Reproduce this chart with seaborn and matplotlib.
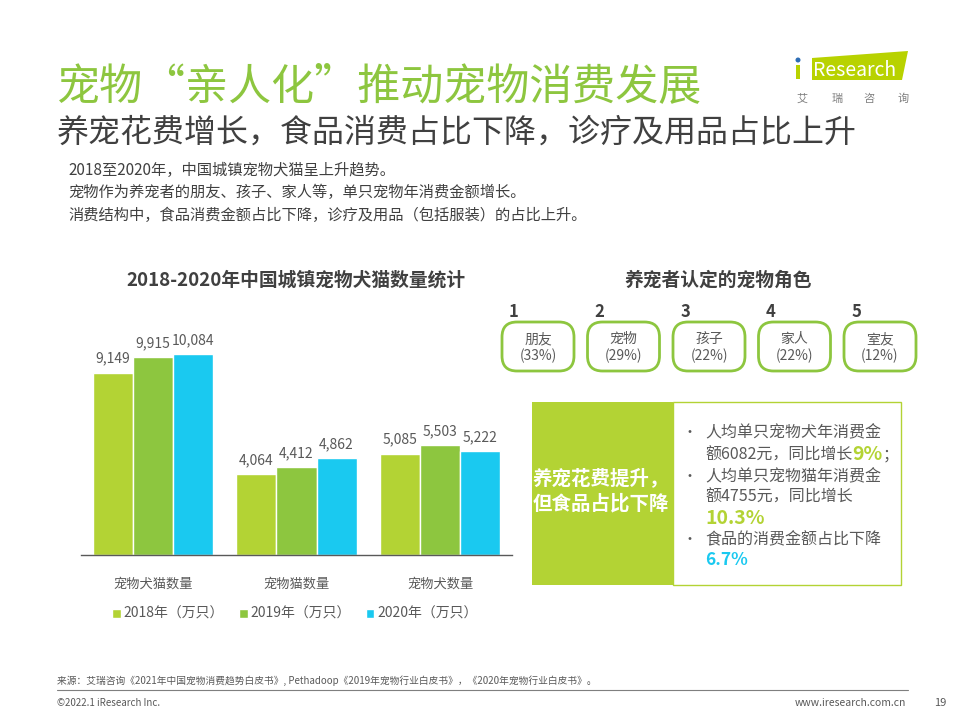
import matplotlib
matplotlib.use('Agg')
import matplotlib.pyplot as plt
from matplotlib.patches import FancyBboxPatch, Rectangle, Polygon, Circle
import pandas as pd
import seaborn as sns

sns.set_style('white')
plt.rcParams['font.family'] = ['Noto Sans CJK SC', 'DejaVu Sans']

# data
categories = ['宠物犬猫数量', '宠物猫数量', '宠物犬数量']
years = ['2018年（万只）', '2019年（万只）', '2020年（万只）']
v2018 = [9149, 4064, 5085]
v2019 = [9915, 4412, 5503]
v2020 = [10084, 4862, 5222]
roles = ['朋友', '宠物', '孩子', '家人', '室友']
role_pct = [33, 29, 22, 22, 12]

LIME = '#B3D334'
GREEN = '#8DC63F'
CYAN = '#1AC9F0'
DARK = '#404040'
GRAY = '#595959'

df = pd.DataFrame({
    'category': categories * 3,
    'year': [years[0]] * 3 + [years[1]] * 3 + [years[2]] * 3,
    'value': v2018 + v2019 + v2020,
})

fig = plt.figure(figsize=(9.6, 7.2), dpi=100)

# overlay in pixel coordinates for the slide decorations
ov = fig.add_axes([0, 0, 1, 1])
ov.set_xlim(0, 960)
ov.set_ylim(720, 0)
ov.axis('off')

# bar chart
ax = fig.add_axes([81 / 960, 1 - 555 / 720, 431 / 960, 255 / 720])
ax.set_facecolor('none')
sns.barplot(data=df, x='category', y='value', hue='year', hue_order=years,
            palette=[LIME, GREEN, CYAN], width=0.836, gap=0, ax=ax,
            saturation=1, legend=True)
for cont in ax.containers:
    ax.bar_label(cont, fmt='{:,.0f}', padding=5, fontsize=10, color=GRAY)
ax.set_ylim(0, 12795)
ax.set_xlim(-0.5, 2.5)
ax.set_xlabel('')
ax.set_ylabel('')
ax.set_yticks([])
for s in ['left', 'right', 'top']:
    ax.spines[s].set_visible(False)
ax.spines['bottom'].set_color(GRAY)
ax.spines['bottom'].set_linewidth(1)
ax.tick_params(axis='x', length=0, pad=16, labelsize=9.5, labelcolor=GRAY)

handles, labels = ax.get_legend_handles_labels()
ax.get_legend().remove()
fig.legend(handles, labels, loc='center', bbox_to_anchor=(295 / 960, 1 - 614 / 720),
           ncol=3, frameon=False, fontsize=10, handlelength=0.6, handleheight=0.6,
           handletextpad=0.2, columnspacing=1.1, labelcolor=GRAY)

# titles and body text
ov.text(57, 87, '宠物“亲人化”推动宠物消费发展', fontsize=31, color=GREEN, va='center', ha='left')
ov.text(57, 133, '养宠花费增长，食品消费占比下降，诊疗及用品占比上升', fontsize=23, color=DARK,
        va='center', ha='left')
body = ['2018至2020年，中国城镇宠物犬猫呈上升趋势。',
        '宠物作为养宠者的朋友、孩子、家人等，单只宠物年消费金额增长。',
        '消费结构中，食品消费金额占比下降，诊疗及用品（包括服装）的占比上升。']
for i, line in enumerate(body):
    ov.text(68, 170 + i * 22.5, line, fontsize=11, color=DARK, va='center', ha='left')

ov.text(296, 280, '2018-2020年中国城镇宠物犬猫数量统计', fontsize=13.5, fontweight='bold',
        color=DARK, va='center', ha='center')
ov.text(718, 280, '养宠者认定的宠物角色', fontsize=13.5, fontweight='bold',
        color=DARK, va='center', ha='center')

# role boxes
for i, (role, pct) in enumerate(zip(roles, role_pct)):
    x0 = 502 + i * 85.5
    box = FancyBboxPatch((x0, 322), 72, 49, boxstyle='round,pad=0,rounding_size=15',
                         facecolor='white', edgecolor=GREEN, linewidth=2)
    ov.add_patch(box)
    ov.text(x0 + 12, 312, str(i + 1), fontsize=12, fontweight='bold', color=DARK,
            va='center', ha='center')
    ov.text(x0 + 36, 339, role, fontsize=10, color=GRAY, va='center', ha='center')
    ov.text(x0 + 36, 356, f'({pct}%)', fontsize=10, color=GRAY, va='center', ha='center')

# info box
ov.add_patch(Rectangle((532, 402), 141, 183, facecolor=LIME, edgecolor='none'))
ov.add_patch(Rectangle((673, 402), 228, 183, facecolor='white', edgecolor=LIME, linewidth=1))
ov.text(601, 478, '养宠花费提升，', fontsize=14, fontweight='bold', color='white',
        va='center', ha='center')
ov.text(601, 504, '但食品占比下降', fontsize=14, fontweight='bold', color='white',
        va='center', ha='center')

renderer = fig.canvas.get_renderer()


def draw_runs(x, y, runs):
    for s, kw in runs:
        t = ov.text(x, y, s, va='center', ha='left', **kw)
        x += t.get_window_extent(renderer=renderer).width


txt = dict(fontsize=11.5, color=GRAY)
hl_lime = dict(fontsize=14, color=LIME, fontweight='bold')
hl_cyan = dict(fontsize=12.5, color=CYAN, fontweight='bold')
lines = [
    (433, True, [('人均单只宠物犬年消费金', txt)]),
    (455, False, [('额6082元，同比增长', txt), ('9%', hl_lime), ('；', txt)]),
    (477, True, [('人均单只宠物猫年消费金', txt)]),
    (497, False, [('额4755元，同比增长', txt)]),
    (518, False, [('10.3%', hl_lime)]),
    (540, True, [('食品的消费金额占比下降', txt)]),
    (560, False, [('6.7%', hl_cyan)]),
]
for y, bullet, runs in lines:
    if bullet:
        ov.text(690, y, '•', fontsize=10, color=GRAY, va='center', ha='center')
    draw_runs(705, y, runs)

# logo
ov.add_patch(Polygon([(812, 58), (908, 51), (902, 80), (812, 80)], closed=True,
                     facecolor='#B8D200', edgecolor='none'))
ov.add_patch(Rectangle((796, 65), 4, 14, facecolor='#B8D200', edgecolor='none'))
ov.add_patch(Circle((798, 60), 2.5, facecolor='#2D6DB5', edgecolor='none'))
ov.text(813, 71, 'Research', fontsize=14, color='white', va='center', ha='left')
for ch, cx in zip('艾瑞咨询', [802, 837, 869, 903]):
    ov.text(cx, 99, ch, fontsize=8, color='#7F7F7F', va='center', ha='center')

# footer
ov.text(57, 681, '来源：艾瑞咨询《2021年中国宠物消费趋势白皮书》, Pethadoop《2019年宠物行业白皮书》，《2020年宠物行业白皮书》。',
        fontsize=7, color=GRAY, va='center', ha='left')
ov.plot([57, 908], [690, 690], color='#7F7F7F', linewidth=0.8)
ov.text(57, 703, '©2022.1 iResearch Inc.', fontsize=7, color=GRAY, va='center', ha='left')
ov.text(906, 703, 'www.iresearch.com.cn', fontsize=7.5, color=GRAY, va='center', ha='right')
ov.text(940, 703, '19', fontsize=8, color=GRAY, va='center', ha='center')

fig.savefig('out.png', dpi=100)
